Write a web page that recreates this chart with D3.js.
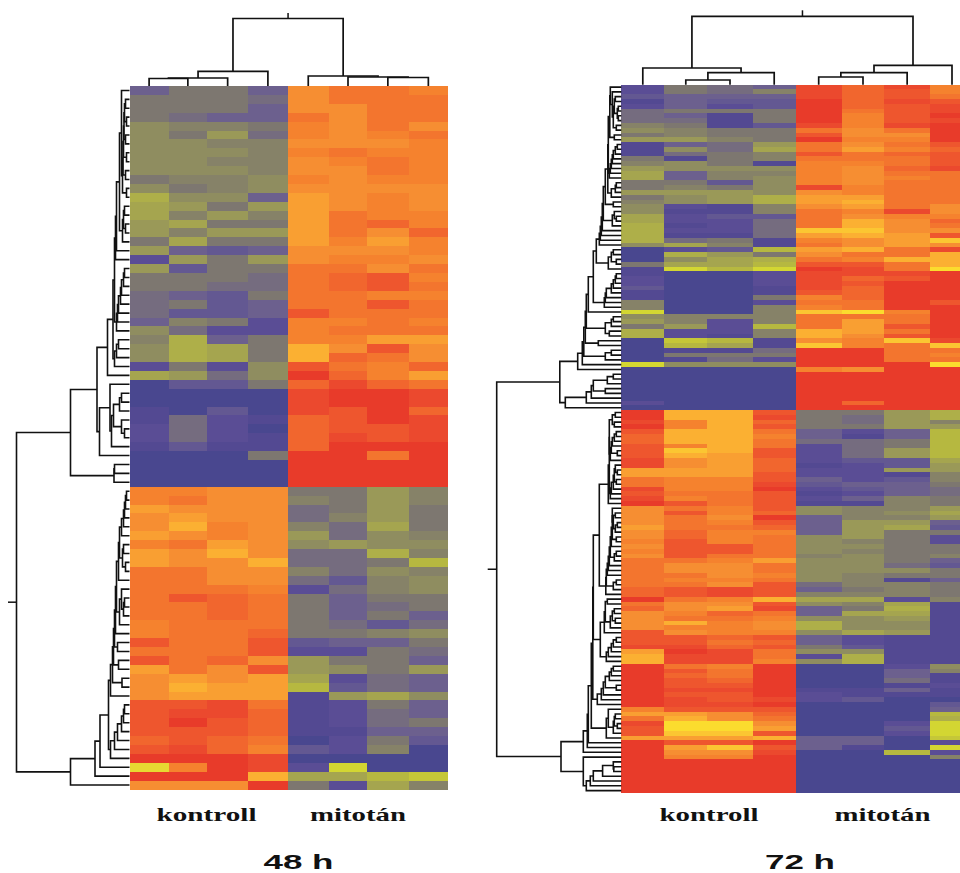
<!DOCTYPE html>
<html>
<head>
<meta charset="utf-8">
<script src="https://cdn.jsdelivr.net/npm/d3@7"></script>
<style>
  html, body { margin: 0; padding: 0; background: #fff; overflow: hidden; }
  svg { display: block; }
</style>
</head>
<body>
<div id="chart"></div>
<script>
// expression level per cell, 0 = lowest (blue) ... 13 = highest (red)
// columns: 4 kontroll, then 4 mitotan
const rows48 = [
  [2,3,3,2,10,11,11,10.5],[3,3,3,2.5,10,11,11,11],[3,3,3,2,10,10,11,11],[3,2.5,2,2,11,10,11,11],
  [4,3.5,3.5,3,10.5,10,11,10],[4,3,4.5,2.5,10.5,10,10.5,11],[4,4,3.5,3.5,10,10,10,10.5],[4,4,4,3.5,10.5,11,10.5,10.5],
  [4,4,3.5,3.5,10,10.5,11,10.5],[4,4,4,3.5,10,10,11,10.5],[3,3.5,3.5,4,10.5,10,10.5,10.5],[4,3,3.5,4,10,10,10,10],
  [5.5,4,4,2,9.5,10,10.5,10],[5,4.5,3,4.5,9.5,10,10.5,10],[5,3.5,4.5,3.5,9.5,11,10.5,10.5],[4.5,5,3,3,9.5,11,11.5,10.5],
  [4.5,3.5,4.5,4.5,9.5,11,10,11.5],[3,5,3,3,9.5,10.5,9.5,10.5],[4.5,2,1.5,2,10,10,10,10.5],[1,4.5,3,4.5,10,10.5,10.5,10],
  [4.5,1.5,3,3,11,11,10,11],[3,3,3,2.5,11,11.5,12,10.5],[3,3,2.5,2.5,11,11.5,12,11],[2.5,2,1.5,3,11,11,10.5,10.5],
  [2.5,3,1.5,2,11,11,12,11],[2.5,1.5,1.5,2,12,11,11,11],[2,3.5,3,1,10.5,10.5,11,10.5],[4,2.5,1,1,10.5,11,11,11],
  [3.5,5.5,2,3,10.5,10.5,9.5,9.5],[4,5.5,5,3,9,10,12,10],[4,5.5,5,3,9,11.5,11,10],[1,3,1,4,12,11,10.5,11.5],
  [5,4.5,2.5,4,13,11.5,10.5,9.5],[0,1.5,1.5,3,11.5,12.5,11.5,11],[0,0,0,0,12.5,13,13,12.5],[0,0,0,0,12.5,13,13,12.5],
  [0.5,0,1.5,0,12.5,12,13,11.5],[0.5,2.5,1,0.5,11.5,12,13,12.5],[1,2.5,1,0,11.5,12,12,12.5],[1,2.5,1,0.5,11.5,12.5,12,12.5],
  [0.5,1.5,0.5,0.5,11.5,13,13,13],[0,0,0,3,13,13,11,13],[0,0,0,0,13,13,13,13],[0,0,0,0,13,13,13,13],
  [0,0,0,0,13,13,13,13],[10.5,10.5,10,10,3,3,4.5,3.5],[10.5,11,10,10,3.5,3,4.5,3.5],[9.5,10,10,10,2.5,3,4.5,3],
  [10,9.5,10,10,2.5,3.5,4.5,3],[10,9,10.5,10,3.5,2.5,5,3],[9.5,10,10.5,10,4.5,2.5,4,3.5],[10.5,11,9.5,10,4,4.5,4,4],
  [9.5,10,9,10,2.5,2.5,5.5,3.5],[9.5,10,10,9,2.5,2.5,3,6],[11,11,10,10,3.5,2.5,4,3.5],[11,11,10,10,2.5,1.5,3.5,4],
  [11,11,11,10.5,1,2.5,3.5,4],[11,12,11.5,11,3,2,3,3],[11,11,11.5,11,3,2,2.5,3],[11,11,11.5,11,3,2,3,2],
  [10.5,11,11,11,3,2.5,1.5,2.5],[10.5,11,11,11.5,3,3,3.5,4],[12,11,11,12,1.5,2,2,3],[11,11,11,12,1,1,3,2.5],
  [12,11,11.5,10,4.5,3,3,2],[9.5,11,10,12,4.5,4,3,4.5],[10,9.5,10,9.5,5,1,2.5,2],[10,9,9.5,9.5,6,1.5,2.5,2],
  [10,9.5,9.5,9.5,0.5,4.5,5,4],[12,12,12.5,11,0.5,1,3,2],[12,12.5,12.5,11.5,0.5,1,2.5,2],[12,13,12,11.5,0.5,1,2.5,3],
  [12,12,12,11.5,0.5,0.5,2,2],[11.5,12,11.5,11,0,1,3,1.5],[12,12.5,11.5,10.5,1.5,1,3.5,0],[13,13,13,12.5,0,0,0,0],
  [7.5,10.5,13,12.5,1,7,0,0],[13,13,13,9,5,5,6,6.5],[10,10,10,13,3,1,5,3.5]
];

const rows72 = [
  [1,3,2.5,2,12.5,11.5,12.5,10.5],[1,3,2.5,3.5,12.5,11.5,12,10.5],[1.5,2,2,2,12.5,11.5,12,11],[0.5,2,1.5,1.5,13,11.5,12.5,12],
  [1,2,1,1.5,13,11.5,12,12.5],[2.5,3,3,3,13,11,12,12.5],[2.5,2,0.5,3,13,10.5,12,13],[2.5,2.5,0.5,3,13,10.5,12,12.5],
  [3.5,3,0.5,1.5,12.5,10.5,12.5,13],[4,3.5,3,3,11,10,11,13],[3,3.5,3,3,12,10,10,13],[4.5,4.5,3.5,3,13,10.5,10.5,13],
  [0.5,2,2.5,4.5,11,10,11,12],[0.5,4,2.5,5,11,9.5,10.5,11.5],[0.5,2.5,3,3.5,12,11,11.5,12],[3,0.5,3,3.5,11,11,11,12],
  [3.5,4,3,0.5,10.5,10.5,11,12],[4.5,4,4,4,10.5,10,11.5,12.5],[5,2,3.5,3.5,10.5,10,11,11],[5,2,3.5,4,10.5,10,10.5,11],
  [3,3,1.5,4,10.5,10,11,11],[3,3.5,3,4,12.5,10.5,11,11],[4.5,4.5,4.5,4,10,10.5,11,11],[3,4,4.5,5.5,9.5,9.5,11,11],
  [3.5,4,4.5,5.5,9.5,9,11,11],[4,1,0.5,3.5,10,9.5,11,10],[4,0.5,0.5,3.5,11,10.5,12.5,10],[5,1,1.5,1.5,11,10,10.5,10.5],
  [5,1,1,2.5,11,9,10,11.5],[5.5,0.5,1,2.5,11,9,10,11],[5.5,1,1,2.5,8.5,8.5,10,10],[5.5,0.5,0.5,2.5,9.5,9,9.5,12],
  [5.5,2.5,3,0.5,10.5,10,9.5,8.5],[4,5,3.5,0.5,11,10,9.5,10],[0,1,1.5,6,9.5,9,11,12.5],[0,5.5,4.5,3,10,11,11,9],
  [0,4,5,5.5,11,10.5,9,9],[3,5,5,6,12,12,11,9],[0.5,7,6,7,13,12.5,11,8],[0.5,0,0,1,12.5,12.5,12.5,13],
  [1,0,0,1,12.5,11.5,12,13],[1,0,0,1,12.5,12,13,13],[1.5,0,0,0.5,12.5,11.5,13,13],[0.5,0,0,0.5,12,11.5,13,13],
  [0.5,0,0,3,10.5,11.5,13,13],[3.5,0,0,1,11,11,13,12],[3.5,0,0,3.5,10.5,11,13,13],[7,0,0,3.5,8.5,8,10.5,13],
  [4,3.5,3.5,3.5,11,11,11,13],[4.5,3.5,1,3.5,11,9.5,11,13],[3,4.5,1,6,11,9.5,12,13],[5.5,1,1,3.5,9,9.5,11,13],
  [5.5,1,0.5,3.5,9,10,12,13],[0,6.5,6,0.5,10,10.5,8.5,12.5],[0,6,5,0.5,8.5,10.5,11,8.5],[0,0.5,0.5,2.5,13,13,11,11],
  [0,3,3,3,13,13,11,10.5],[0,0.5,2.5,1,13,13,11,11],[7,4,4,4,13,13,13,8],[0,0,0,0,10.5,10,13,13],
  [0,0,0,0,13,13,13,13],[0,0,0,0,13,13,13,13],[0,0,0,0,13,13,13,13],[0,0,0,0,13,13,13,13],
  [0,0,0,0,13,13,13,13],[0,0,0,0,13,13,13,13],[1,0,0,0,13,11.5,13,13],[0,0,0,0,13,13,13,13],
  [13,9,9,12,3,3,4.5,5.5],[13,9,9,12.5,3,2.5,4.5,5.5],[12.5,10.5,9,11.5,3,2.5,4.5,3.5],[13,10.5,9,12,3,3,4.5,4.5],
  [12,9,9,11,2,1,2,6],[11.5,9,9,10.5,2,0.5,2,6],[11.5,9,9,11,2.5,2.5,3,6],[12,10.5,9,11,1,2.5,3,6],
  [12,8.5,9,12,1,2.5,4.5,6],[12,9,9.5,12,1,2.5,4.5,6],[12.5,10,9.5,11.5,1,1.5,1.5,5],[12.5,10,9.5,11.5,0.5,1,1.5,4.5],
  [9.5,9.5,9.5,11.5,1,1,4.5,4.5],[9.5,9.5,9.5,12,1,1,0.5,3.5],[11,10.5,10.5,12,2,1,1.5,3.5],[11,10.5,10.5,12.5,1.5,2,2,3],
  [12.5,10.5,10.5,13,1,1.5,2,2.5],[12,11,11,12,0.5,1,2,2.5],[12.5,10.5,11,12,1,2,3.5,3],[13,12,11,12,0.5,0.5,3.5,3],
  [10,11,10.5,12,4,3.5,3.5,4.5],[10,12,10.5,11.5,4,3.5,4,5],[10,11,10,13,2,3.5,3.5,4.5],[10,11,10.5,12,2,4.5,4.5,2],
  [9.5,11,11,11.5,2,4.5,5,1.5],[10,11.5,10.5,10.5,2,4.5,3,3],[10,11.5,10.5,11,4,4.5,3,1],[10.5,12,10.5,11,4,3.5,3,1],
  [10,12,12,11,4,4,3,3],[10.5,12,12,11,4,3.5,3,3],[10,12,11,11,3.5,4,3,3.5],[11,11,10.5,9.5,4,4,3,2],
  [11,10,10,11,4,4,2.5,1.5],[11,10,10,11,4,4,4,3],[11,11,10,10.5,4,3.5,3,3],[11,10.5,10.5,11,4,3.5,0.5,2],
  [11,11,10,12,2.5,3.5,3.5,3],[11.5,12,12.5,12,2,3,3.5,3],[11.5,12,12.5,12,3.5,3.5,3.5,3],[13,11,10.5,9,5,5,1,3.5],
  [11,10,10,12,4,3.5,5,0.5],[11.5,10,9.5,12.5,2,3,5.5,0.5],[10,10.5,11.5,11,2,5,5,0.5],[10,11,11,10.5,4,4,4.5,0.5],
  [10,9,10.5,10,5.5,4,4,0.5],[10,10.5,10.5,10,5.5,4,4,0.5],[12,10,10.5,10.5,4,5,4.5,0.5],[12,12,11.5,12,2,1,0.5,0.5],
  [12,12,11,11.5,2,1,0.5,0.5],[12.5,12.5,11.5,12,3,1.5,0.5,0.5],[9.5,13,12.5,11,4,4,0.5,0.5],[9,12.5,12.5,11,1,5.5,0.5,0.5],
  [9,12.5,12.5,10.5,4,5.5,0.5,0.5],[13,11,10.5,13,0,0,1,4],[13,12,11,13,0,0,2,3.5],[13,11.5,11,13,0,0,2,0.5],
  [13,12,11.5,13,0,0,2.5,0.5],[13,12,12,13,0,0,0.5,1],[13,12.5,12.5,13,0.5,0.5,2,0.5],[13,12,12,13,1,0.5,0.5,0.5],
  [13,12.5,12,12.5,1,1.5,0,0],[13,12.5,12.5,13,0,0,0,1.5],[10.5,12,12,12,0,0,0,2],[9.5,9.5,10,11.5,0,0,0,6],
  [11,9,10,11,0,0,0,5.5],[12.5,8,8,10,0,0,1,7],[12,8,8,9.5,0,0,1.5,7],[12,8.5,8.5,12,0,0,1,7],
  [9.5,9.5,9.5,9,2,2,0,6.5],[13,12,12,13,2,2,0,1],[13,9.5,8.5,12,2,0.5,0,7],[13,10,10,12.5,0,0,6,1],
  [13,10.5,10.5,13,0,0,0,3.5],[13,13,13,13,0,0,0,0],[13,13,13,13,0,0,0,0],[13,13,13,13,0,0,0,0],
  [13,13,13,13,0,0,0,0],[13,13,13,13,0,0,0,0],[13,13,13,13,0,0,0,0],[13,13,13,13,0,0,0,0]
];

// dendrogram: distance at which each leaf joins the next one
const rowJoins48 = [
  8,4,5,3,5.5,4,6,3,6.5,4,7,3,10,5,6,4,7,13,14,15,5,6,8,9,11,12,13,16.5,11,13,15,22,32.5,19.5,
  8,10,16,8,5,18,30,59,15,15.5,113,
  3,4,5,6,8,10,6,7,4,11,13,8,5,6,10,14,15,12,16,11,17,7.5,19,21,5,6,8,12,15,19,29.5,34.5,59
];
const colJoins48 = [7.5,8,14.7,67.5,10,9,8.5];

const rowJoins72 = [
  11,9,6,7,3,4,3,8,5,11.5,7,13,4,6,8,9,10,11,12,13.5,5,6,10,16,8,18,7,5,9,19,20,21,22,25,
  8,10,5,13,28,5,6,8,10,15,16,17,33,35,8,10,16,12,36,23,37.5,10,16,39,43.6,61.5,
  8,14,28,16,30,35,56,124.6,
  6,9,7,12,5,7,9,10,4,11,12,6,4,7,5,8,10,11,13,22,
  9,6,8,4,6,9,5,10,11,5,7,12,13,14,15,5,8,15.5,28,
  14,16,7,9,6,11,17,21,5,8,10,13,15,28.5,
  8,10,12,16,5,18,20,24,30,13,6,7,4,8,15,33,34,38,60.3,
  38,8,7.5,18.7,28,31,35
];
const colJoins72 = [16.7,4.7,12,68.4,7.7,12,19.3];

const groupNames = ["kontroll", "mitot\u00e1n"];
const panelTitles = ["48 h", "72 h"];

// colour ramp for the levels
const levels = d3.range(14);
const ramp = ["#4a468f","#5a4e95","#6c618e","#7d776f","#8f8d60","#a5a550","#b6b83f",
              "#d3d632","#fbdc2f","#fbb030","#f68e30","#f3752e","#ee572d","#e83a2c"];

const width = 960, height = 873;

const color = d3.scaleLinear().domain(levels).range(ramp);

const svg = d3.select("#chart").append("svg")
    .attr("width", width)
    .attr("height", height);

// soft edges, the original is a scan
svg.append("defs").append("filter")
    .attr("id", "soft")
    .attr("x", "-2%").attr("y", "-2%").attr("width", "104%").attr("height", "104%")
  .append("feGaussianBlur")
    .attr("stdDeviation", 0.6);

// turn adjacent join distances into the list of merges of the tree
function buildMerges(joins, leafPos) {
  let clusterAt = leafPos.map((p, i) => ({pos: p, h: 0, first: i, last: i}));
  let order = d3.range(joins.length).sort((a, b) => d3.ascending(joins[a], joins[b]));
  let merges = [];
  order.forEach(k => {
    let a = clusterAt[k], b = clusterAt[k + 1];
    let m = {pos: (a.pos + b.pos) / 2, h: joins[k], first: a.first, last: b.last};
    clusterAt[m.first] = m;
    clusterAt[m.last] = m;
    merges.push({a: a, b: b, h: joins[k]});
  });
  return {merges: merges, root: clusterAt[0]};
}

function drawPanel(p) {
  const g = svg.append("g");

  const x = d3.scaleLinear().domain(d3.range(9)).range(p.colEdges);
  const y = d3.scaleBand().domain(d3.range(p.rows.length)).range([p.top, p.bottom]);

  // heat cells, overlapped a little so no seams show through the blur
  const cells = g.append("g").attr("filter", "url(#soft)");
  p.rows.forEach((row, i) => {
    cells.selectAll("rect.r" + i)
      .data(row)
      .enter()
      .append("rect")
        .attr("class", "r" + i)
        .attr("x", (d, j) => x(j))
        .attr("y", y(i))
        .attr("width", (d, j) => x(j + 1) - x(j) + (j < 7 ? 1 : 0))
        .attr("height", y.bandwidth() + (i < p.rows.length - 1 ? 1 : 0))
        .attr("shape-rendering", "crispEdges")
        .attr("fill", d => color(d));
  });

  // row dendrogram, left of the cells
  const rowDist = d3.scaleLinear().domain([0, d3.max(p.rowJoins)]).range([p.colEdges[0], p.rowRootX]);
  const rowTree = buildMerges(p.rowJoins, p.rows.map((r, i) => y(i) + y.bandwidth() / 2));
  g.append("g").selectAll("path")
    .data(rowTree.merges)
    .enter()
    .append("path")
      .attr("d", m => {
        const path = d3.path();
        path.moveTo(rowDist(m.a.h), m.a.pos);
        path.lineTo(rowDist(m.h), m.a.pos);
        path.lineTo(rowDist(m.h), m.b.pos);
        path.lineTo(rowDist(m.b.h), m.b.pos);
        return path.toString();
      })
      .attr("fill", "none")
      .attr("stroke", "#111")
      .attr("stroke-width", 1.6);
  g.append("line")
    .attr("x1", p.rowRootX - p.stub).attr("x2", p.rowRootX)
    .attr("y1", rowTree.root.pos).attr("y2", rowTree.root.pos)
    .attr("stroke", "#111").attr("stroke-width", 1.5);

  // column dendrogram, above the cells
  const colDist = d3.scaleLinear().domain([0, d3.max(p.colJoins)]).range([p.top, p.colRootY]);
  const colTree = buildMerges(p.colJoins, d3.range(8).map(j => (x(j) + x(j + 1)) / 2));
  g.append("g").selectAll("path")
    .data(colTree.merges)
    .enter()
    .append("path")
      .attr("d", m => {
        const path = d3.path();
        path.moveTo(m.a.pos, colDist(m.a.h));
        path.lineTo(m.a.pos, colDist(m.h));
        path.lineTo(m.b.pos, colDist(m.h));
        path.lineTo(m.b.pos, colDist(m.b.h));
        return path.toString();
      })
      .attr("fill", "none")
      .attr("stroke", "#111")
      .attr("stroke-width", 1.7);
  g.append("line")
    .attr("x1", colTree.root.pos).attr("x2", colTree.root.pos)
    .attr("y1", p.colRootY - p.stub + 3).attr("y2", p.colRootY)
    .attr("stroke", "#111").attr("stroke-width", 1.5);

  // group labels, stretched wide like the original
  g.selectAll("text.group")
    .data(groupNames)
    .enter()
    .append("text")
      .attr("class", "group")
      .text(d => d)
      .attr("x", (d, i) => p.labelX[i])
      .attr("y", 821)
      .attr("textLength", (d, i) => p.labelW[i])
      .attr("lengthAdjust", "spacingAndGlyphs")
      .attr("font-family", "'Liberation Serif', serif")
      .attr("font-weight", "bold")
      .attr("font-size", 19)
      .attr("fill", "#111");

  g.append("text")
    .text(p.title)
    .attr("x", p.titleX)
    .attr("y", 868.6)
    .attr("textLength", 70)
    .attr("lengthAdjust", "spacingAndGlyphs")
    .attr("font-family", "'Liberation Sans', sans-serif")
    .attr("font-weight", "bold")
    .attr("font-size", 20.5)
    .attr("fill", "#111");
}

drawPanel({
  rows: rows48, rowJoins: rowJoins48, colJoins: colJoins48, title: panelTitles[0],
  colEdges: [129.5, 168.7, 207, 248.3, 287.5, 329, 367, 408.7, 448],
  top: 86, bottom: 789.5, rowRootX: 16.5, colRootY: 18.5, stub: 8.5,
  labelX: [156.5, 310], labelW: [100, 96], titleX: 263.5
});

// the last column runs off the right edge of the picture
drawPanel({
  rows: rows72, rowJoins: rowJoins72, colJoins: colJoins72, title: panelTitles[1],
  colEdges: [621.3, 664.3, 707.3, 752.7, 795.7, 841.7, 884.3, 930, 974],
  top: 84.7, bottom: 793, rowRootX: 496.7, colRootY: 16.3, stub: 9,
  labelX: [659.5, 834.5], labelW: [99, 96], titleX: 765
});
</script>
</body>
</html>
